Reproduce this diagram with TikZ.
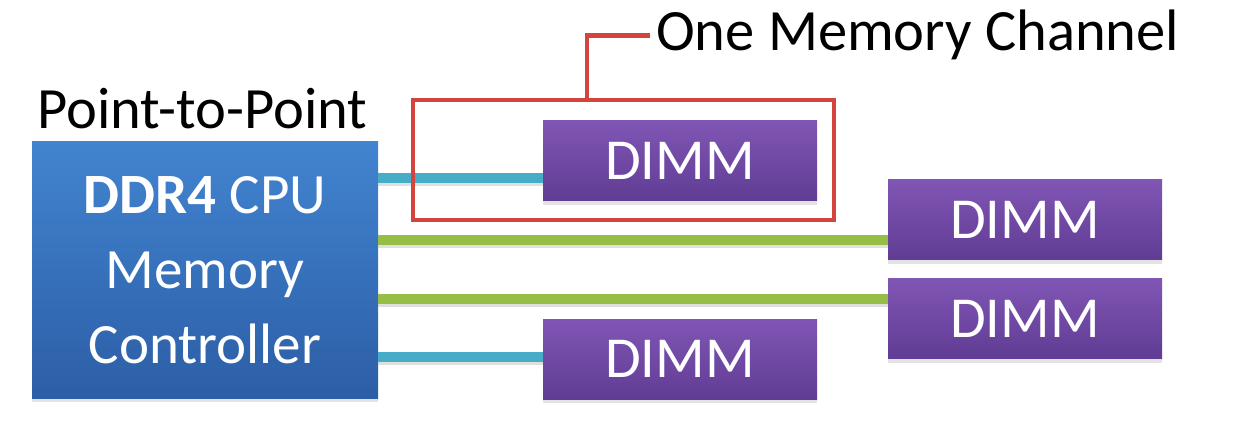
\documentclass[tikz,border=0pt]{standalone}
\usepackage{fontspec}
\setmainfont{Carlito}
\usetikzlibrary{calc,shadows}
\definecolor{cpuTop}{RGB}{66,132,208}
\definecolor{cpuBot}{RGB}{44,94,166}
\definecolor{dimmTop}{RGB}{128,86,180}
\definecolor{dimmBot}{RGB}{96,60,148}
\definecolor{chRed}{RGB}{212,68,62}
\definecolor{busGreen}{RGB}{150,190,70}
\definecolor{busCyan}{RGB}{70,172,200}
\tikzset{
  boxshadow/.style={drop shadow={shadow xshift=0pt, shadow yshift=-4pt, opacity=0.22}},
  cpubox/.style={rectangle, draw=none, top color=cpuTop, bottom color=cpuBot,
    minimum width=346pt, minimum height=256pt, inner sep=0pt, text=white,
    align=center, font=\fontsize{57}{75}\selectfont, boxshadow},
  dimmbox/.style={rectangle, draw=none, top color=dimmTop, bottom color=dimmBot,
    minimum width=274pt, minimum height=80pt, inner sep=0pt, text=white,
    font=\fontsize{58}{70}\selectfont, boxshadow},
  title/.style={inner sep=0pt, anchor=base west, text=black, font=\fontsize{58.5}{70}\selectfont},
  chanbox/.style={rectangle, draw=chRed, line width=4.5pt, minimum width=421pt, minimum height=120pt, inner sep=0pt},
  chanlead/.style={draw=chRed, line width=4.5pt},
  busline/.style={line width=10pt, preaction={draw=black!25, opacity=0.5, line width=10pt, transform canvas={yshift=-3pt}}},
  cyanbus/.style={busline, draw=busCyan},
  greenbus/.style={busline, draw=busGreen},
}
\begin{document}
\begin{tikzpicture}[x=1pt,y=-1pt]
\useasboundingbox (0,0) rectangle (1242,438);
% texts
\node[title] (p2p) at (37,129) {Point-to-Point};
\node[title] (chan) at (656,51) {One Memory Channel};
% boxes
\node[cpubox] (cpu) at (205,270) {\textbf{DDR4} CPU\\Memory\\Controller};
\node[dimmbox] (d1) at (680,161) {DIMM};
\node[dimmbox] (d2) at (1025,220) {DIMM};
\node[dimmbox] (d3) at (1025,318.5) {DIMM};
\node[dimmbox] (d4) at (680,359) {DIMM};
% bus connection points
\coordinate (c1) at ($(d1.west)+(0,17)$);
\coordinate (c2) at ($(d2.west)+(0,20)$);
\coordinate (c3) at ($(d3.west)+(0,-19.5)$);
\coordinate (c4) at ($(d4.west)+(0,-2)$);
\draw[cyanbus] (cpu.east |- c1) -- (c1);
\draw[greenbus] (cpu.east |- c2) -- (c2);
\draw[greenbus] (cpu.east |- c3) -- (c3);
\draw[cyanbus] (cpu.east |- c4) -- (c4);
% channel highlight
\node[chanbox] (chbox) at (623.5,160) {};
\coordinate (tap) at (587,100);
\draw[chanlead] ([xshift=-6pt]chan.west) -| (tap);
\end{tikzpicture}
\end{document}
